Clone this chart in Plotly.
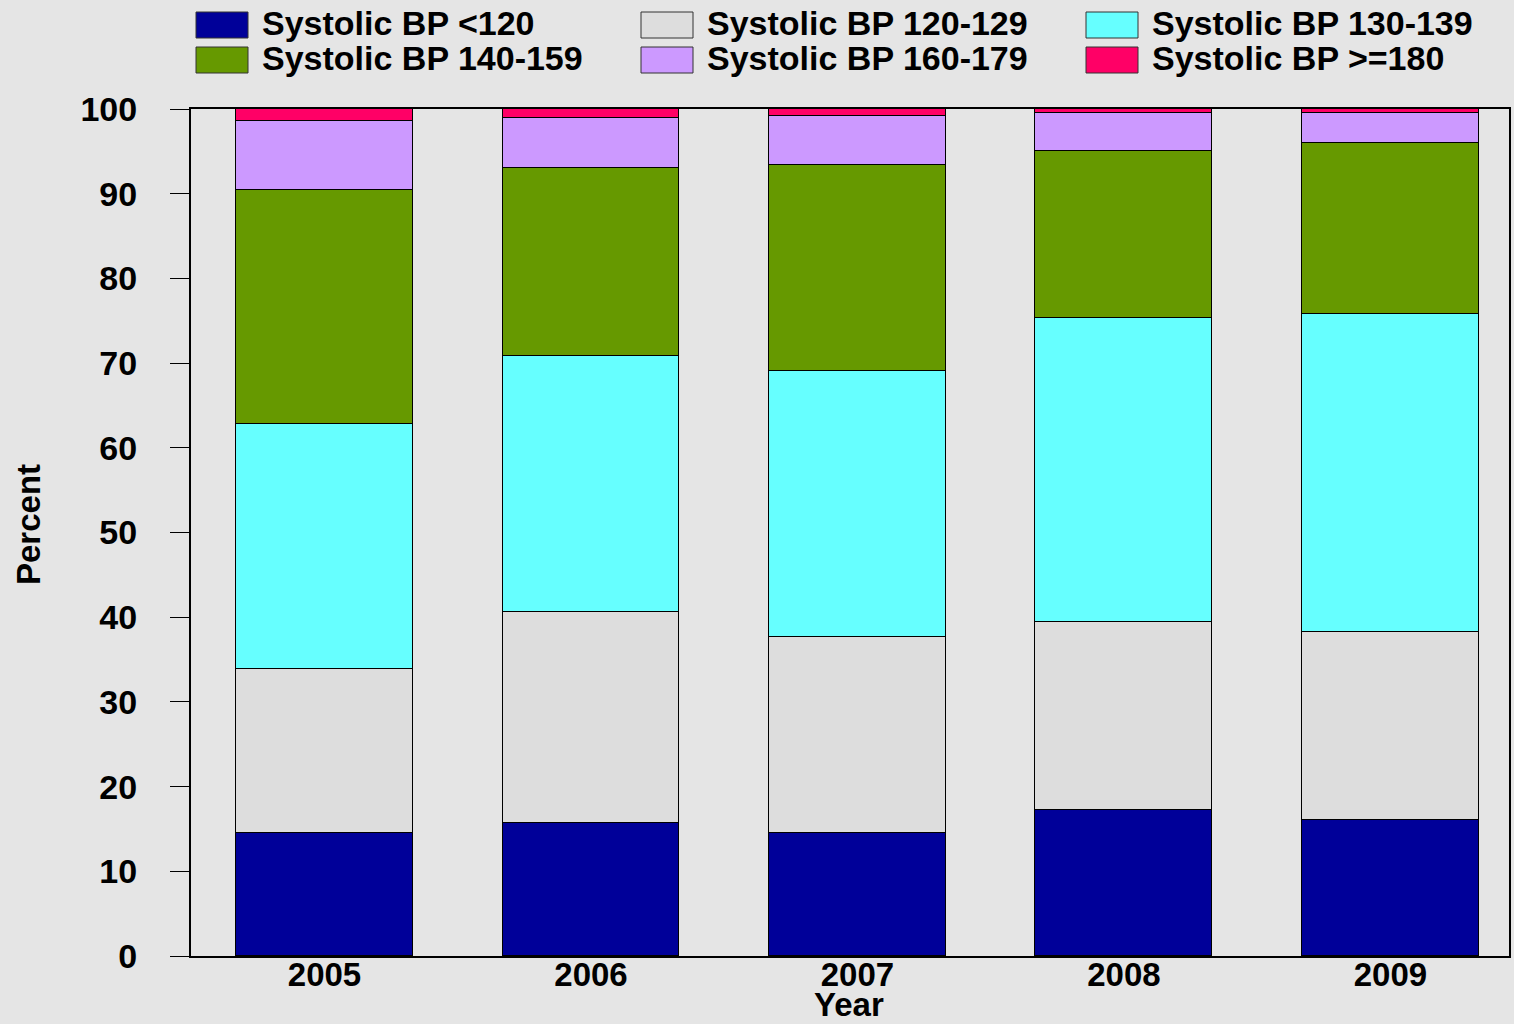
import plotly.graph_objects as go

years = [2005, 2006, 2007, 2008, 2009]
series_names = ["Systolic BP <120", "Systolic BP 120-129", "Systolic BP 130-139",
                "Systolic BP 140-159", "Systolic BP 160-179", "Systolic BP >=180"]
bp_lt120 = [14.5, 15.7, 14.5, 17.2, 16.1]
bp_120_129 = [19.4, 24.9, 23.2, 22.2, 22.2]
bp_130_139 = [28.9, 30.2, 31.4, 35.9, 37.5]
bp_140_159 = [27.6, 22.2, 24.3, 19.7, 20.2]
bp_160_179 = [8.2, 5.9, 5.8, 4.5, 3.5]
bp_ge180 = [1.4, 1.1, 0.8, 0.5, 0.5]
y_ticks = [0, 10, 20, 30, 40, 50, 60, 70, 80, 90, 100]
x_title = "Year"
y_title = "Percent"

series_values = [bp_lt120, bp_120_129, bp_130_139, bp_140_159, bp_160_179, bp_ge180]
colors = ["#000099", "#DDDDDD", "#66FFFF", "#669900", "#CC99FF", "#FF0066"]

FONT = "Liberation Sans, Arial, sans-serif"
W, H = 1514, 1024
L, R, T, B = 191, 5, 109, 68
pw, ph = W - L - R, H - T - B


def px_x(px):
    return (px - L) / pw


def px_y(py):
    return (H - B - py) / ph


fig = go.Figure()
for name, vals, col in zip(series_names, series_values, colors):
    fig.add_trace(go.Bar(
        x=years, y=vals, name=name, width=0.664,
        marker=dict(color=col, line=dict(color="black", width=1)),
        showlegend=False,
    ))

# manual legend (3 columns x 2 rows)
for i, (name, col) in enumerate(zip(series_names, colors)):
    r, c = divmod(i, 3)
    x0 = 196 + 445 * c
    y0 = 12 + 35 * r
    fig.add_shape(type="rect", xref="paper", yref="paper",
                  x0=px_x(x0), x1=px_x(x0 + 52),
                  y0=px_y(y0), y1=px_y(y0 + 26),
                  fillcolor=col, line=dict(color="#333333", width=1))
    fig.add_annotation(xref="paper", yref="paper",
                       x=px_x(x0 + 64), y=px_y(y0 + 11),
                       text=name, showarrow=False, xanchor="left", yanchor="middle",
                       font=dict(family=FONT, size=34, color="black", weight="bold"))

# axis titles
fig.add_annotation(xref="paper", yref="paper", x=px_x(849), y=px_y(1004),
                   text=x_title, showarrow=False, xanchor="center", yanchor="middle",
                   font=dict(family=FONT, size=33, color="black", weight="bold"))
fig.add_annotation(xref="paper", yref="paper", x=px_x(28), y=px_y(525),
                   text=y_title, showarrow=False, textangle=-90,
                   xanchor="center", yanchor="middle",
                   font=dict(family=FONT, size=33, color="black", weight="bold"))

fig.update_layout(
    width=W, height=H,
    margin=dict(l=L, r=R, t=T, b=B, pad=0, autoexpand=False),
    barmode="stack",
    paper_bgcolor="#E5E5E5", plot_bgcolor="#E5E5E5",
    font=dict(family=FONT, size=32, color="black", weight="bold"),
    showlegend=False,
    bargap=0,
)
fig.update_xaxes(
    automargin=False,
    range=[2004.499, 2009.445], tickmode="array", tickvals=years,
    ticktext=[str(y) for y in years], ticks="", showgrid=False, zeroline=False,
    showline=True, mirror=True, linecolor="black", linewidth=2,
    ticklabelstandoff=-12,
    tickfont=dict(family=FONT, size=33, weight="bold"),
)
fig.update_yaxes(
    automargin=False,
    range=[0, 100], tickmode="array", tickvals=y_ticks,
    ticks="outside", ticklen=19, tickwidth=1, tickcolor="black",
    showgrid=False, zeroline=False,
    showline=True, mirror=True, linecolor="black", linewidth=2,
    ticklabelstandoff=26,
    tickfont=dict(family=FONT, size=34, weight="bold"),
)

fig.write_html("out.html", config={"displayModeBar": False},
               post_script="document.body.style.margin='0';document.body.style.background='#E5E5E5';")
